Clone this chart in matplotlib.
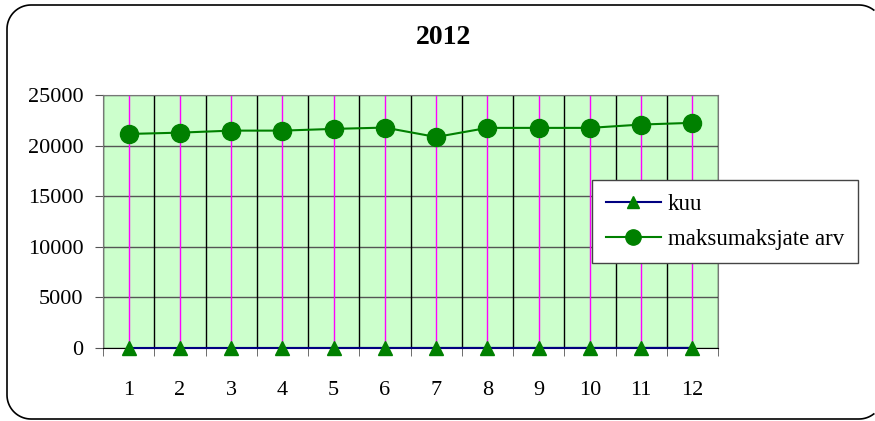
import matplotlib
matplotlib.use("Agg")
import numpy as np
import matplotlib.pyplot as plt
from matplotlib.lines import Line2D

plt.rcParams['font.family'] = ['Liberation Serif', 'DejaVu Serif']

months = ['1', '2', '3', '4', '5', '6', '7', '8', '9', '10', '11', '12']
kuu = [1, 2, 3, 4, 5, 6, 7, 8, 9, 10, 11, 12]
maksumaksjad = [21150, 21280, 21480, 21480, 21650, 21780,
                20850, 21750, 21750, 21750, 22080, 22250]

W, H = 875, 421
fig = plt.figure(figsize=(W / 100, H / 100), dpi=100)

# rounded outer frame; its right side lies past the picture edge,
# so only the part inside the figure is drawn
x0, x1, yt, yb, r = 7, 883, 5, 419, 24
t = np.linspace(0, np.pi / 2, 20)
px = np.concatenate([x1 - r + r * np.cos(t),               # top-right
                     x0 + r - r * np.sin(t),               # top-left
                     x0 + r - r * np.cos(t),               # bottom-left
                     x1 - r + r * np.sin(t)])              # bottom-right
py = np.concatenate([yt + r - r * np.sin(t),
                     yt + r - r * np.cos(t),
                     yb - r + r * np.sin(t),
                     yb - r + r * np.cos(t)])
keep = px <= W - 0.5
fig.add_artist(Line2D(px[keep] / W, 1 - py[keep] / H, transform=fig.transFigure,
                      color='black', linewidth=1.2))

ax = fig.add_axes([103 / W, 1 - 348 / H, 615 / W, 253 / H])
ax.set_facecolor('#ccffcc')

x = list(range(len(months)))
ax.set_xlim(-0.5, len(months) - 0.5)
ax.set_ylim(0, 25000)

# vertical lines: black at category borders, magenta at category centres
for i in range(len(months) + 1):
    ax.axvline(i - 0.5, color='black', linewidth=1, zorder=1)
for i in x:
    ax.axvline(i, color='#ff00ff', linewidth=1, zorder=1)
ax.set_yticks(range(0, 25001, 5000))
ax.yaxis.grid(True, color='#555555', linewidth=1)
ax.set_axisbelow(True)

ax.plot(x, kuu, color='#000080', linewidth=1.5, marker='^', markersize=10,
        markerfacecolor='green', markeredgecolor='green', label='kuu',
        zorder=3, clip_on=False)
ax.plot(x, maksumaksjad, color='green', linewidth=1.5, marker='o',
        markersize=13, markerfacecolor='green', markeredgecolor='green',
        label='maksumaksjate arv', zorder=3, clip_on=False)

ax.set_xticks(x)
ax.set_xticklabels(months)
ax.set_xticks([i - 0.5 for i in range(len(months) + 1)], minor=True)
ax.tick_params(axis='x', which='major', length=0, pad=24, labelsize=16)
ax.tick_params(axis='x', which='minor', length=6, color='#555555', direction='out')
ax.tick_params(axis='y', length=6, color='#555555', labelsize=16, pad=8)

for side in ['top', 'right', 'left']:
    ax.spines[side].set_color('#777777')
ax.spines['bottom'].set_color('black')

fig.text(444 / W, 1 - 38 / H, '2012', fontsize=20, fontweight='bold',
         ha='center', va='center')

leg = ax.legend(loc='upper left', bbox_to_anchor=(592 / W, 1 - 180 / H),
                bbox_transform=fig.transFigure, fontsize=16.5, frameon=True,
                fancybox=False, edgecolor='#444444', framealpha=1,
                handlelength=2.4, borderpad=0.6, labelspacing=0.6,
                handletextpad=0.3, borderaxespad=0)
leg.get_frame().set_linewidth(1)
for h, ms in zip(leg.legend_handles, [9, 11]):
    h.set_markersize(ms)

fig.savefig('out.png', dpi=100)
